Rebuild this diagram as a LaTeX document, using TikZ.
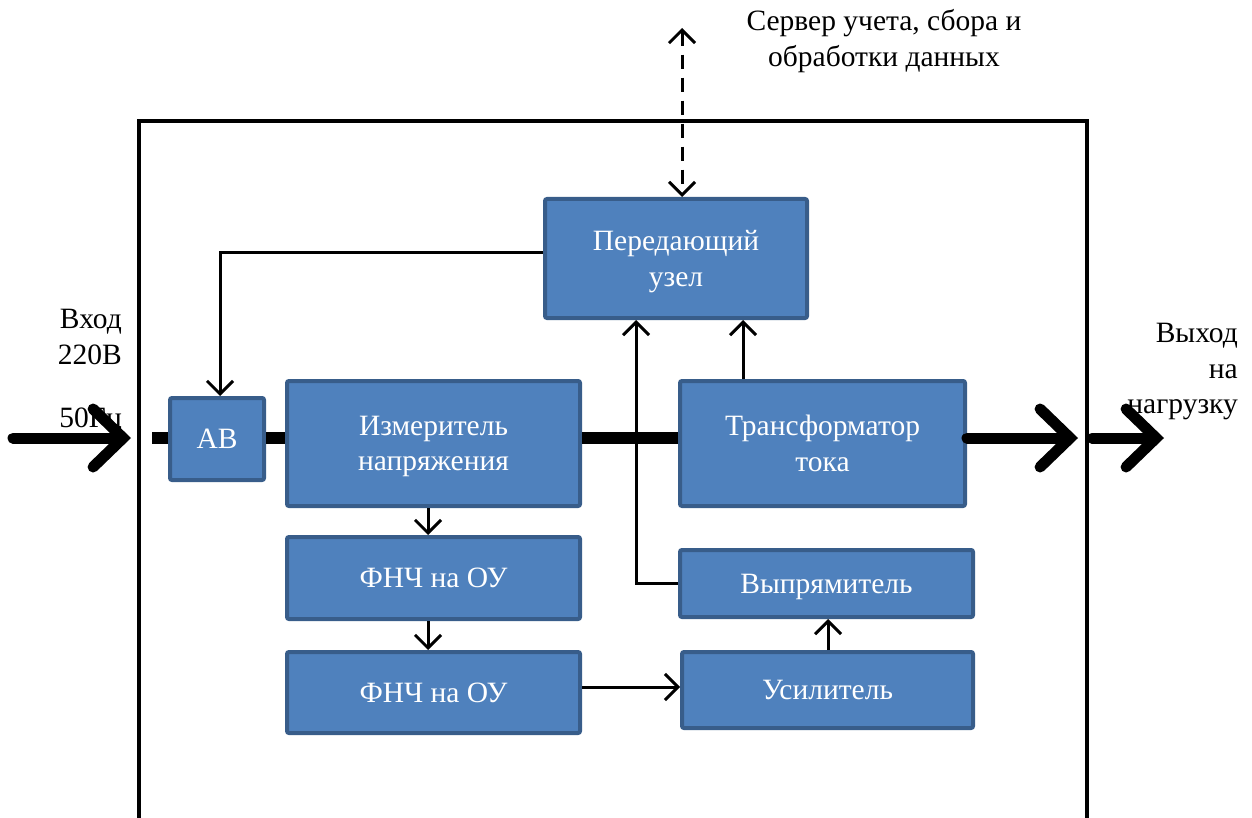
\documentclass[tikz,border=0pt]{standalone}
\usepackage{fontspec}
\setmainfont{Liberation Serif}
\usetikzlibrary{arrows.meta}
\definecolor{boxfill}{HTML}{4F81BD}
\definecolor{boxline}{HTML}{385D8A}
\tikzset{
  blk/.style={draw=boxline, fill=boxfill, line width=4pt, rounded corners=2pt,
    text=white, align=center, inner sep=0pt, text depth=0pt,
    font=\fontsize{29.5}{35.5}\selectfont},
  lbl/.style={inner sep=0pt, font=\fontsize{29.5}{35.5}\selectfont},
  thin/.style={line width=3pt, -{Straight Barb[length=13pt, width=26pt, line width=3pt]}},
  bus/.style={line width=12pt},
  power/.style={line width=11pt, line cap=round,
    -{Straight Barb[length=30pt, width=58pt, line width=11pt, line cap=round]}},
}
\begin{document}
\begin{tikzpicture}[x=1pt, y=-1pt]
\useasboundingbox (0,0) rectangle (1252,818);

% enclosure
\draw[line width=4pt] (139,830) -- (139,121) -- (1087,121) -- (1087,830);

% blocks
\node[blk, minimum width=262pt, minimum height=119pt] (tx)   at (676,258.5) {Передающий\\узел};
\node[blk, minimum width=94pt,  minimum height=82pt]  (ab)   at (217,439)   {АВ};
\node[blk, minimum width=293pt, minimum height=125pt] (meas) at (433.5,443.5) {Измеритель\\напряжения};
\node[blk, minimum width=285pt, minimum height=125pt] (ct)   at (822.5,443.5) {Трансформатор\\тока};
\node[blk, minimum width=293pt, minimum height=82pt]  (lpa)  at (433.5,578) {ФНЧ на ОУ};
\node[blk, minimum width=293pt, minimum height=67pt]  (rect) at (826.5,583.5) {Выпрямитель};
\node[blk, minimum width=293pt, minimum height=81pt]  (lpb)  at (433.5,692.5) {ФНЧ на ОУ};
\node[blk, minimum width=291pt, minimum height=76pt]  (amp)  at (827.5,690) {Усилитель};

% captions
\node[lbl, align=center] (srv) at (884,41) {Сервер учета, сбора и\\обработки данных};
\node[lbl, align=right, anchor=north east] (inlbl) at (122,309) {Вход\\220В};
\node[lbl, anchor=north east] (hz) at (122,408) {50Гц};
\node[lbl, align=right, anchor=north east] (outlbl) at (1238,323) {Выход\\на\\нагрузку};

% power line, all at one height
\coordinate (busL) at (152,438);
\draw[bus] (busL) -- (ab.west |- busL);
\draw[bus] (ab.east |- busL) -- (meas.west |- busL);
\draw[bus] (meas.east |- busL) -- (ct.west |- busL);

% input and output arrows
\coordinate (inS) at (13,438);
\coordinate (inE) at (131,438);
\coordinate (outA) at (1078,438);
\coordinate (outB) at (1092,438);
\coordinate (outC) at (1164,438);
\draw[power] (inS) -- (inE);
\draw[power] (ct.east |- outA) -- (outA);
\draw[power] (outB) -- (outC);

% server link
\coordinate (srvEnd) at (682,28);
\draw[line width=3pt, dash pattern=on 14pt off 9pt,
  {Straight Barb[length=13pt, width=26pt, line width=3pt]}-{Straight Barb[length=13pt, width=26pt, line width=3pt]}]
  (srvEnd) -- (tx.north -| srvEnd);

% control signals
\draw[thin] (tx.west |- 0,253) -| (ab.north -| 220,0);
\draw[thin] (rect.west) -| (tx.south -| 636,0);
\draw[thin] (ct.north -| 743,0) -- (tx.south -| 743,0);
\draw[thin] (meas.south -| 428,0) -- (lpa.north -| 428,0);
\draw[thin] (lpa.south -| 428,0) -- (lpb.north -| 428,0);
\draw[thin] (lpb.east |- 0,687) -- (amp.west |- 0,687);
\draw[thin] (amp.north -| 828,0) -- (rect.south -| 828,0);
\end{tikzpicture}
\end{document}
